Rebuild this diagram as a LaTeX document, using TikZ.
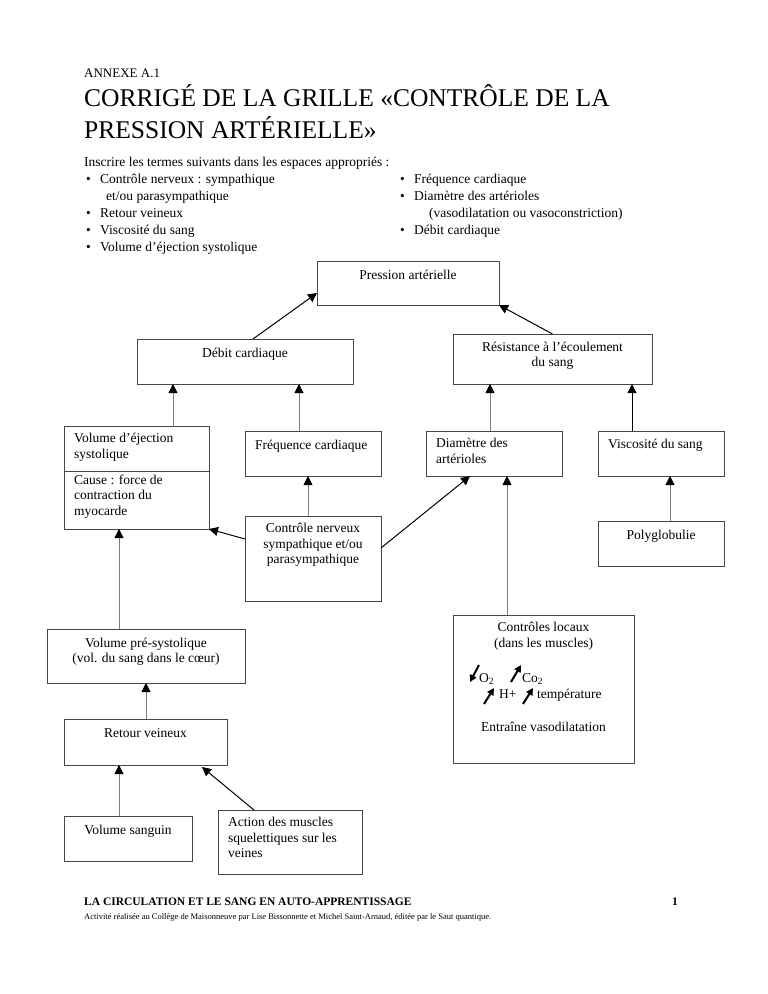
\documentclass[tikz,border=0pt]{standalone}
\usepackage{fontspec}
\setmainfont{Liberation Serif}
\usetikzlibrary{arrows.meta,calc}
\begin{document}
\begin{tikzpicture}[x=1pt,y=-1pt,
  box/.style={draw=black!72, line width=0.9pt, rectangle, inner sep=0pt, outer sep=0pt, anchor=north west},
  txt/.style={inner sep=0pt, font=\fontsize{13.5}{15.5}\selectfont, align=center, anchor=north, execute at begin node=\strut},
  ltxt/.style={inner sep=0pt, font=\fontsize{13.5}{15.5}\selectfont, align=left, anchor=north west, execute at begin node=\strut},
  ptxt/.style={inner sep=0pt, font=\fontsize{13.5}{15.5}\selectfont, anchor=base west},
  conn/.style={draw=black!50, line width=0.8pt, -{Triangle[length=9pt,width=9pt,color=black]}},
  dconn/.style={draw=black, line width=1pt, -{Triangle[length=9pt,width=9pt]}},
  uparr/.style={draw=black, line width=2pt, -{Triangle[length=7pt,width=7pt]}},
]
\fill[white] (0,0) rectangle (768,994);
\useasboundingbox (0,0) rectangle (768,994);

% header
\node[inner sep=0pt, anchor=base west, font=\fontsize{13}{15}\selectfont] (annexe) at (84,77) {ANNEXE A.1};
\node[inner sep=0pt, anchor=base west, font=\fontsize{25.5}{30}\selectfont] (title1) at (84,106) {CORRIGÉ DE LA GRILLE «CONTRÔLE DE LA};
\node[inner sep=0pt, anchor=base west, font=\fontsize{25.5}{30}\selectfont] (title2) at (84,138) {PRESSION ARTÉRIELLE»};

\node[ptxt] (intro) at (84,166.5) {Inscrire les termes suivants dans les espaces appropriés :};
\node[ptxt] (b1) at (86,183.5) {•};
\node[ptxt] (l1) at (100,183.5) {Contrôle nerveux : sympathique};
\node[ptxt] (l1b) at (106,200.5) {et/ou parasympathique};
\node[ptxt] (b2) at (86,217.5) {•};
\node[ptxt] (l2) at (100,217.5) {Retour veineux};
\node[ptxt] (b3) at (86,234.5) {•};
\node[ptxt] (l3) at (100,234.5) {Viscosité du sang};
\node[ptxt] (b4) at (86,251.5) {•};
\node[ptxt] (l4) at (100,251.5) {Volume d’éjection systolique};
\node[ptxt] (r1b) at (400,183.5) {•};
\node[ptxt] (r1) at (414,183.5) {Fréquence cardiaque};
\node[ptxt] (r2b) at (400,200.5) {•};
\node[ptxt] (r2) at (414,200.5) {Diamètre des artérioles};
\node[ptxt] (r2c) at (429,217.5) {(vasodilatation ou vasoconstriction)};
\node[ptxt] (r3b) at (400,234.5) {•};
\node[ptxt] (r3) at (414,234.5) {Débit cardiaque};

% boxes
\node[box, minimum width=182, minimum height=44] (pa) at (317,261) {};
\node[box, minimum width=199, minimum height=50] (res) at (453,334) {};
\node[box, minimum width=216, minimum height=45] (dc) at (137,339) {};
\node[box, minimum width=145, minimum height=103] (vej) at (64,426) {};
\node[box, minimum width=136, minimum height=45] (fc) at (245,431) {};
\node[box, minimum width=136, minimum height=85] (cn) at (245,516) {};
\node[box, minimum width=136, minimum height=45] (da) at (426,431) {};
\node[box, minimum width=126, minimum height=45] (vs) at (598,431) {};
\node[box, minimum width=126, minimum height=45] (pg) at (598,521) {};
\node[box, minimum width=181, minimum height=148] (cl) at (453,615) {};
\node[box, minimum width=198, minimum height=54] (vps) at (47,629) {};
\node[box, minimum width=163, minimum height=46] (rv) at (64,719) {};
\node[box, minimum width=128, minimum height=45] (vsg) at (64,816) {};
\node[box, minimum width=144, minimum height=64] (am) at (218,810) {};
\draw[draw=black!72, line width=0.9pt] ([yshift=-45pt]vej.north west) -- ([yshift=-45pt]vej.north east);

% box texts
\node[txt] (tpa) at ([yshift=-7pt]pa.north) {Pression artérielle};
\node[txt] (tres) at ([yshift=-7.5pt]res.north) {Résistance à l’écoulement\\du sang};
\node[txt] (tdc) at ([yshift=-7.5pt]dc.north) {Débit cardiaque};
\node[ltxt] (tvej) at ([shift={(10pt,-7pt)}]vej.north west) {Volume d’éjection\\systolique};
\node[ltxt] (tvej2) at ([shift={(10pt,-48.6pt)}]vej.north west) {Cause : force de\\contraction du\\myocarde};
\node[ltxt] (tfc) at ([shift={(10pt,-7pt)}]fc.north west) {Fréquence cardiaque};
\node[txt] (tcn) at ([yshift=-7pt]cn.north) {Contrôle nerveux\\sympathique et/ou\\parasympathique};
\node[ltxt] (tda) at ([shift={(10pt,-7pt)}]da.north west) {Diamètre des\\artérioles};
\node[ltxt] (tvs) at ([shift={(10pt,-6pt)}]vs.north west) {Viscosité du sang};
\node[txt] (tpg) at ([yshift=-7.5pt]pg.north) {Polyglobulie};
\node[txt] (tcl) at ([yshift=-7pt]cl.north) {Contrôles locaux\\(dans les muscles)};
\node[txt] (tcl2) at ([yshift=-105pt]cl.north) {Entraîne vasodilatation};
\node[txt] (tvps) at ([yshift=-8.5pt]vps.north) {Volume pré-systolique\\(vol. du sang dans le cœur)};
\node[txt] (trv) at ([yshift=-7.5pt]rv.north) {Retour veineux};
\node[txt] (tvsg) at ([yshift=-7pt]vsg.north) {Volume sanguin};
\node[ltxt] (tam) at ([shift={(10pt,-7pt)}]am.north west) {Action des muscles\\squelettiques sur les\\veines};

% local control symbols
\node[ptxt] (o2) at (479,682) {O\textsubscript{2}};
\node[ptxt] (co2) at (522,682) {Co\textsubscript{2}};
\node[ptxt] (hp) at (499,698) {H+};
\node[ptxt] (temp) at (537,698) {température};
\draw[uparr] ([shift={(0pt,17pt)}]o2.base west) -- ([shift={(-9pt,0pt)}]o2.base west);
\draw[uparr] ([shift={(-11pt,0pt)}]co2.base west) -- ([shift={(-1pt,17pt)}]co2.base west);
\draw[uparr] ([shift={(-15pt,-6pt)}]hp.base west) -- ([shift={(-5pt,10pt)}]hp.base west);
\draw[uparr] ([shift={(-14pt,-6pt)}]temp.base west) -- ([shift={(-4pt,10pt)}]temp.base west);

% connectors
\draw[dconn] ([xshift=8pt]dc.north) -- ([yshift=-10pt]pa.west);
\draw[dconn] (res.north) -- (pa.south east);
\draw[conn] ([xshift=36.5pt]vej.north) -- ([xshift=36.5pt]vej.north |- dc.south);
\draw[conn] ([xshift=-14pt]fc.north) -- ([xshift=-14pt]fc.north |- dc.south);
\draw[conn] ([xshift=-5pt]cn.north) -- ([xshift=-5pt]cn.north |- fc.south);
\draw[dconn] ([yshift=-23pt]cn.north west) -- (vej.south east);
\draw[dconn] ([yshift=-32pt]cn.north east) -- ([xshift=-24pt]da.south);
\draw[conn] ([xshift=-4pt]da.north) -- ([xshift=-4pt]da.north |- res.south);
\draw[dconn] ([xshift=-29pt]vs.north) -- ([xshift=-29pt]vs.north |- res.south);
\draw[conn] ([xshift=9pt]pg.north) -- ([xshift=9pt]pg.north |- vs.south);
\draw[conn] ([xshift=-36.5pt]cl.north) -- ([xshift=-36.5pt]cl.north |- da.south);
\draw[conn] ([xshift=-27pt]vps.north) -- ([xshift=-27pt]vps.north |- vej.south);
\draw[conn] ([xshift=0.5pt]rv.north) -- ([xshift=0.5pt]rv.north |- vps.south);
\draw[conn] ([xshift=-9pt]vsg.north) -- ([xshift=-9pt]vsg.north |- rv.south);
\draw[dconn] ([xshift=-36pt]am.north) -- ([shift={(56.5pt,-2pt)}]rv.south);

% footer
\node[inner sep=0pt, anchor=base west, font=\fontsize{11.5}{13}\selectfont\bfseries] (foot1) at (84,905) {LA CIRCULATION ET LE SANG EN AUTO-APPRENTISSAGE};
\node[inner sep=0pt, anchor=base west, font=\fontsize{8.5}{10}\selectfont] (foot2) at (84,919) {Activité réalisée au Collège de Maisonneuve par Lise Bissonnette et Michel Saint-Arnaud, éditée par le Saut quantique.};
\node[inner sep=0pt, anchor=base west, font=\fontsize{11.5}{13}\selectfont\bfseries] (pagenum) at (672,905) {1};
\end{tikzpicture}
\end{document}
